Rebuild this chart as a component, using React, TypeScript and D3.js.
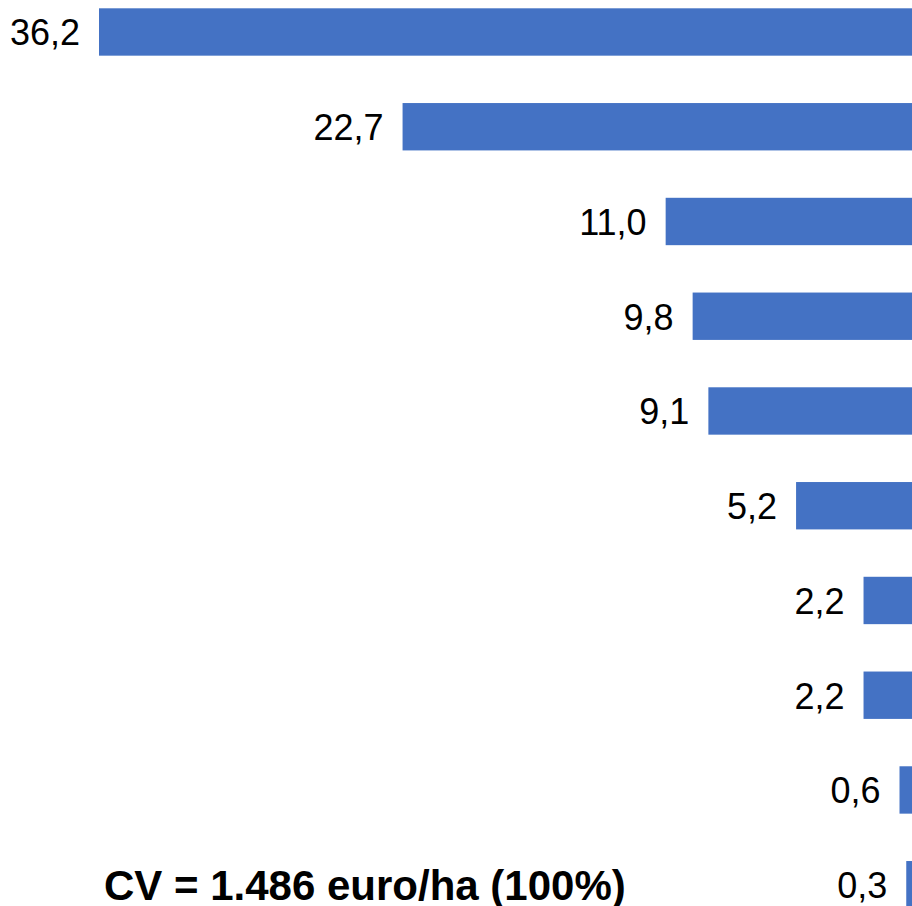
import React from "react";
import * as d3 from "d3";

const categories = ["c1", "c2", "c3", "c4", "c5", "c6", "c7", "c8", "c9", "c10"];
const values = [36.2, 22.7, 11.0, 9.8, 9.1, 5.2, 2.2, 2.2, 0.6, 0.3];
const labels = ["36,2", "22,7", "11,0", "9,8", "9,1", "5,2", "2,2", "2,2", "0,6", "0,3"];
const title = "CV = 1.486 euro/ha (100%)";

const W = 912;
const H = 906;

export default function App() {
  const y = d3.scaleBand<string>().domain(categories).range([8.3, 908.4]).paddingInner(0.5).paddingOuter(0);
  const x = d3.scaleLinear().domain([0, d3.max(values) as number]).range([913, 99]);
  const font = "'Liberation Sans', Arial, sans-serif";
  return (
    <svg
      width={W}
      height={H}
      style={{ position: "fixed", left: 0, top: 0, background: "#fff" }}
    >
      <rect x={0} y={0} width={W} height={H} fill="#fff" />
      {categories.map((c, i) => {
        const y0 = y(c) as number;
        const bw = y.bandwidth();
        const x0 = x(values[i]);
        return (
          <g key={c}>
            <rect x={x0} y={y0} width={x(0) - x0} height={bw} fill="#4472C4" />
            <text
              x={x0 - 19}
              y={y0 + bw / 2 + 13.5}
              textAnchor="end"
              fontFamily={font}
              fontSize={36}
              fill="#000"
            >
              {labels[i]}
            </text>
          </g>
        );
      })}
      <text x={104} y={900} fontFamily={font} fontSize={42} fontWeight="bold" fill="#000">
        {title}
      </text>
    </svg>
  );
}
